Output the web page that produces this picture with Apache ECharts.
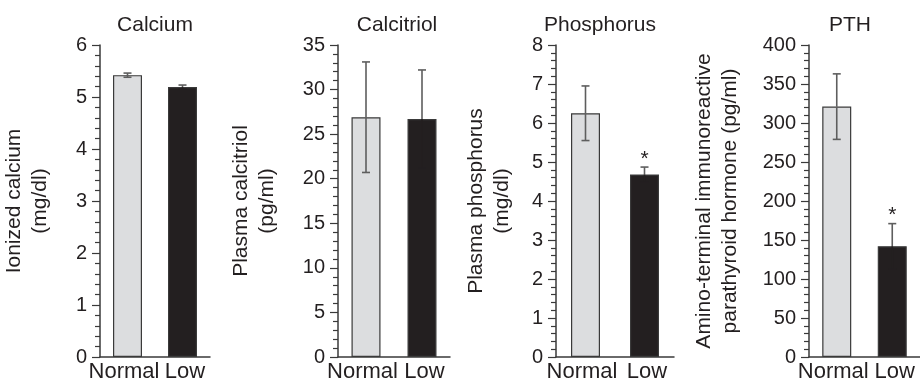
<!DOCTYPE html>
<html>
<head>
<meta charset="utf-8">
<script src="https://cdn.jsdelivr.net/npm/echarts@6/dist/echarts.min.js"></script>
<style>
  html, body { margin: 0; padding: 0; background: #fff; }
  #chart { width: 920px; height: 386px; }
</style>
</head>
<body>
<div id="chart"></div>
<script>
// groups on the x axis
var categories = ['Normal', 'Low'];

// panel titles and y axis names
var titles = ['Calcium', 'Calcitriol', 'Phosphorus', 'PTH'];
var yNames = [
  'Ionized calcium\n(mg/dl)',
  'Plasma calcitriol\n(pg/ml)',
  'Plasma phosphorus\n(mg/dl)',
  'Amino-terminal immunoreactive\nparathyroid hormone (pg/ml)'
];

// y axis ranges / tick step
var yMax = [6, 35, 8, 400];
var yStep = [1, 5, 1, 50];

// means and error (SE)
var calciumMean = [5.42, 5.19];
var calciumErr = [0.04, 0.04];
var calcitriolMean = [26.9, 26.7];
var calcitriolErr = [6.2, 5.5];
var phosphorusMean = [6.25, 4.68];
var phosphorusErr = [0.7, 0.19];
var pthMean = [321, 142];
var pthErr = [42, 29];

// significance marks (*)
var calciumSig = [0, 0];
var calcitriolSig = [0, 0];
var phosphorusSig = [0, 1];
var pthSig = [0, 1];

var means = [calciumMean, calcitriolMean, phosphorusMean, pthMean];
var errs = [calciumErr, calcitriolErr, phosphorusErr, pthErr];
var sigs = [calciumSig, calcitriolSig, phosphorusSig, pthSig];

// layout per panel
var gridLeft = [98, 338, 556, 809];
var gridWidth = [112, 112, 118, 116];
var titleX = [150, 392, 595, 845];
var nameGap = [47, 58, 41, 66];

var ink = '#231f20';
var axisInk = '#3a3a3a';
var barFill = ['#dcdddf', '#231f20'];
var whisker = '#5e5e5e';
var fontFamily = '"Liberation Sans", Arial, Helvetica, sans-serif';

var chart = echarts.init(document.getElementById('chart'));

var title = [], grid = [], xAxis = [], yAxis = [], series = [];

for (var p = 0; p < 4; p++) {
  title.push({
    text: titles[p],
    left: titleX[p],
    top: 10,
    textAlign: 'center',
    textStyle: { fontSize: 21, fontWeight: 'normal', color: ink, fontFamily: fontFamily }
  });
  grid.push({ left: gridLeft[p], width: gridWidth[p], top: 45, height: 312 });
  xAxis.push({
    type: 'category',
    gridIndex: p,
    data: categories,
    axisTick: { show: false },
    axisLine: { lineStyle: { color: axisInk, width: 1.5 } },
    axisLabel: {
      fontSize: 22, color: ink, margin: 4, fontFamily: fontFamily, interval: 0,
      // nudge the two labels apart a little, as in the figure
      formatter: function (val, i) {
        return i === 0 ? '{l|' + val + '}' : '{r|' + val + '}';
      },
      rich: {
        l: { fontSize: 22, color: ink, fontFamily: fontFamily, padding: [0, 7, 0, 0] },
        r: { fontSize: 22, color: ink, fontFamily: fontFamily, padding: [0, 0, 0, 5] }
      }
    }
  });
  yAxis.push({
    type: 'value',
    gridIndex: p,
    min: 0,
    max: yMax[p],
    interval: yStep[p],
    name: yNames[p],
    nameLocation: 'middle',
    nameRotate: 90,
    nameGap: nameGap[p],
    nameTextStyle: { fontSize: 21, color: ink, lineHeight: 26, fontFamily: fontFamily },
    axisLine: { show: true, lineStyle: { color: axisInk, width: 1.5 } },
    axisTick: { show: true, length: 8, lineStyle: { color: axisInk, width: 1.2 } },
    minorTick: { show: true, splitNumber: 5, length: 5, lineStyle: { color: axisInk, width: 1.2 } },
    splitLine: { show: false },
    axisLabel: { fontSize: 20, color: ink, margin: 13, fontFamily: fontFamily }
  });

  var barData = means[p].map(function (v, i) {
    return {
      value: v,
      itemStyle: { color: barFill[i], borderColor: '#3a3a3a', borderWidth: 1.2 }
    };
  });
  series.push({
    type: 'bar',
    xAxisIndex: p,
    yAxisIndex: p,
    barWidth: 29,
    data: barData,
    z: 2
  });

  var errData = means[p].map(function (v, i) {
    return [i, v, errs[p][i], sigs[p][i]];
  });
  series.push({
    type: 'custom',
    xAxisIndex: p,
    yAxisIndex: p,
    z: 5,
    data: errData,
    renderItem: function (params, api) {
      var idx = api.value(0);
      var v = api.value(1);
      var e = api.value(2);
      var s = api.value(3);
      var top = api.coord([idx, v + e]);
      var mid = api.coord([idx, v]);
      var bot = api.coord([idx, v - e]);
      var cap = 4;
      // below the bar top the whisker is hidden on dark bars
      var lowColor = idx === 1 ? barFill[1] : whisker;
      var children = [
        { type: 'line', shape: { x1: top[0], y1: top[1], x2: mid[0], y2: mid[1] }, style: { stroke: whisker, lineWidth: 1.6 } },
        { type: 'line', shape: { x1: top[0] - cap, y1: top[1], x2: top[0] + cap, y2: top[1] }, style: { stroke: whisker, lineWidth: 1.6 } },
        { type: 'line', shape: { x1: mid[0], y1: mid[1], x2: bot[0], y2: bot[1] }, style: { stroke: lowColor, lineWidth: 1.6 } },
        { type: 'line', shape: { x1: bot[0] - cap, y1: bot[1], x2: bot[0] + cap, y2: bot[1] }, style: { stroke: lowColor, lineWidth: 1.6 } }
      ];
      if (s) {
        children.push({
          type: 'text',
          style: {
            text: '*',
            x: top[0],
            y: top[1] - 8,
            textAlign: 'center',
            textVerticalAlign: 'middle',
            font: '21px ' + fontFamily,
            fill: ink
          }
        });
      }
      return { type: 'group', children: children };
    }
  });
}

chart.setOption({
  animation: false,
  backgroundColor: '#fff',
  textStyle: { fontFamily: fontFamily },
  title: title,
  grid: grid,
  xAxis: xAxis,
  yAxis: yAxis,
  series: series
});
</script>
</body>
</html>
